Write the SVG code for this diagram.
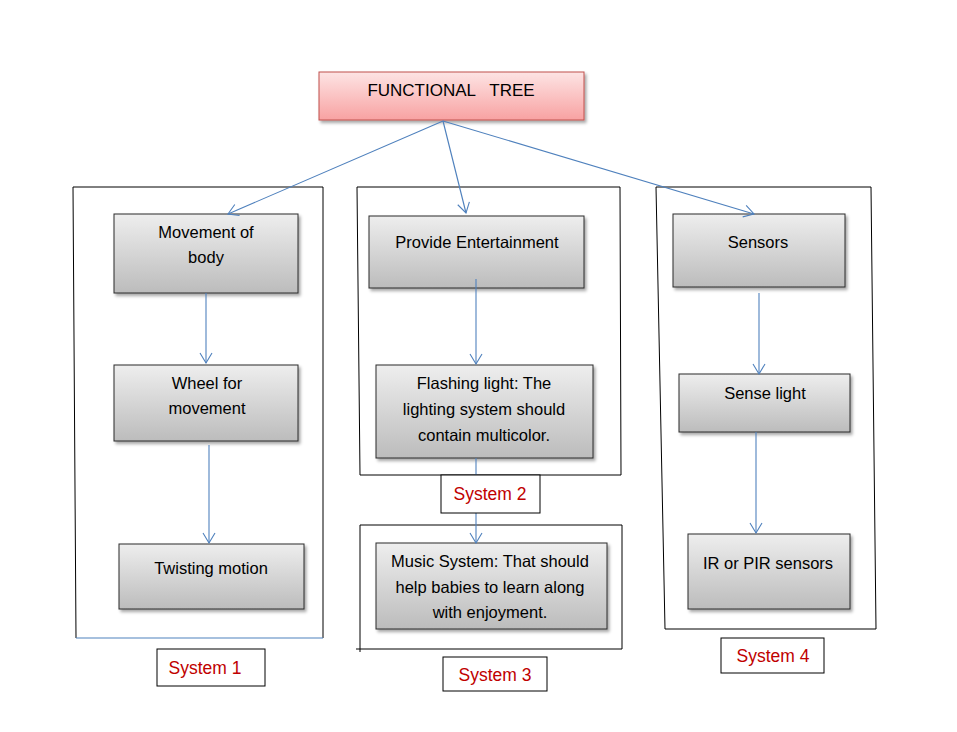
<svg xmlns="http://www.w3.org/2000/svg" width="957" height="732" viewBox="0 0 957 732">
<style>
text{font-family:"Liberation Sans",Arial,sans-serif;font-size:16.5px;fill:#000;text-anchor:middle}
.ttl{font-size:17px}
.lbl{font-size:17.5px;fill:#c00000}
.node{fill:url(#gGrey);stroke:#2b2b2b;stroke-width:1;filter:url(#sh)}
.frame{fill:none;stroke:#000;stroke-width:1}
.lblbox{fill:#fff;stroke:#000;stroke-width:1}
.conn{fill:none;stroke:#4f81bd;stroke-width:1.1}
.arr{marker-end:url(#ah)}
</style>
<defs>
<linearGradient id="gGrey" x1="0" y1="0" x2="0" y2="1">
<stop offset="0" stop-color="#eeeeee"/>
<stop offset="1" stop-color="#bcbcbc"/>
</linearGradient>
<linearGradient id="gPink" x1="0" y1="0" x2="0" y2="1">
<stop offset="0" stop-color="#fde4e4"/>
<stop offset="1" stop-color="#f8a2a2"/>
</linearGradient>
<filter id="sh" x="-10%" y="-10%" width="130%" height="130%">
<feDropShadow dx="2" dy="2.5" stdDeviation="1.5" flood-color="#000" flood-opacity="0.35"/>
</filter>
<marker id="ah" markerUnits="userSpaceOnUse" markerWidth="14" markerHeight="14" viewBox="0 0 14 14" refX="12" refY="7" orient="auto">
<path d="M2,1 L12,7 L2,13" fill="none" stroke="#4f81bd" stroke-width="1.1"/>
</marker>
</defs>

<g id="frames">
<g id="frame-system1">
<path class="frame" d="M323,187 L73,187 L76,638"/>
<path class="frame" d="M323,187 L323,638"/>
<path d="M76,638 L323,638" fill="none" stroke="#4f81bd" stroke-width="1.1"/>
</g>
<g id="frame-system2">
<path class="frame" d="M357,187 L620,187 L621,475 L360,475 Z"/>
</g>
<g id="frame-system3">
<path class="frame" d="M360,525 L622,525 L622,649 M356,649 L622,649 M360,525 L360,652"/>
</g>
<g id="frame-system4">
<path class="frame" d="M656,187 L871,187 L876,629 L665,629 Z"/>
</g>
</g>

<g id="title">
<rect x="319" y="72" width="265" height="48" fill="url(#gPink)" stroke="#c0504d" stroke-width="1" filter="url(#sh)"/>
<text class="ttl" x="451" y="96" xml:space="preserve">FUNCTIONAL   TREE</text>
</g>

<g id="movement-of-body">
<rect class="node" x="114" y="214" width="184" height="79"/>
<text x="206" y="238">Movement of</text>
<text x="206" y="263">body</text>
</g>
<g id="wheel-for-movement">
<rect class="node" x="114" y="365" width="184" height="76"/>
<text x="207" y="389">Wheel for</text>
<text x="207" y="414">movement</text>
</g>
<g id="twisting-motion">
<rect class="node" x="119" y="544" width="185" height="65"/>
<text x="211" y="574">Twisting motion</text>
</g>

<g id="provide-entertainment">
<rect class="node" x="369" y="216" width="215" height="72"/>
<text x="477" y="248">Provide Entertainment</text>
</g>
<g id="flashing-light">
<rect class="node" x="376" y="365" width="217" height="93"/>
<text x="484" y="389">Flashing light: The</text>
<text x="484" y="415">lighting system should</text>
<text x="484" y="441">contain multicolor.</text>
</g>
<g id="music-system">
<rect class="node" x="376" y="543" width="231" height="86"/>
<text x="490" y="567">Music System: That should</text>
<text x="490" y="593">help babies to learn along</text>
<text x="490" y="618">with enjoyment.</text>
</g>

<g id="sensors">
<rect class="node" x="673" y="214" width="172" height="73"/>
<text x="758" y="248">Sensors</text>
</g>
<g id="sense-light">
<rect class="node" x="679" y="374" width="171" height="58"/>
<text x="765" y="399">Sense light</text>
</g>
<g id="ir-pir-sensors">
<rect class="node" x="688" y="534" width="162" height="75"/>
<text x="768" y="569">IR or PIR sensors</text>
</g>

<g id="connectors">
<path class="conn arr" d="M443,121 L228,214"/>
<path class="conn arr" d="M443,121 L466,213"/>
<path class="conn arr" d="M443,121 L754,214"/>
<path class="conn arr" d="M206,293 L206,363"/>
<path class="conn arr" d="M209,445 L209,543"/>
<path class="conn arr" d="M476,279 L476,364"/>
<path class="conn arr" d="M476,458 L476,543"/>
<path class="conn arr" d="M759,293 L759,374"/>
<path class="conn arr" d="M756,432 L756,533"/>
</g>

<g id="label-system1">
<rect class="lblbox" x="157" y="649" width="108" height="37"/>
<text class="lbl" x="205" y="674">System 1</text>
</g>
<g id="label-system2">
<rect class="lblbox" x="441" y="475" width="99" height="38"/>
<text class="lbl" x="490" y="500">System 2</text>
</g>
<g id="label-system3">
<rect class="lblbox" x="443" y="657" width="104" height="34"/>
<text class="lbl" x="495" y="681">System 3</text>
</g>
<g id="label-system4">
<rect class="lblbox" x="721" y="638" width="103" height="35"/>
<text class="lbl" x="773" y="662">System 4</text>
</g>
</svg>
